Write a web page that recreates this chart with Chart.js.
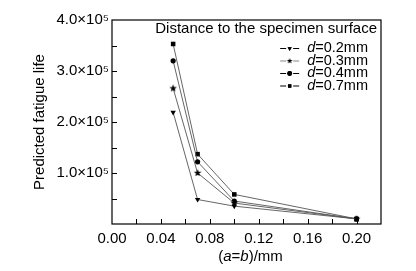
<!DOCTYPE html>
<html>
<head>
<meta charset="utf-8">
<script src="https://cdn.jsdelivr.net/npm/chart.js@4"></script>
<style>
  html, body { margin: 0; padding: 0; background: #fff; }
  #wrap { width: 416px; height: 271px; }
</style>
</head>
<body>
<div id="wrap"><canvas id="fatigueChart" width="416" height="271"></canvas></div>
<script>
// crack size (a=b) in mm
const crackSizes = [0.05, 0.07, 0.10, 0.20];

// predicted fatigue life for each distance to the surface
const lifeD02 = [2.19e5, 0.48e5, 0.35e5, 0.10e5];
const lifeD03 = [2.66e5, 1.00e5, 0.41e5, 0.10e5];
const lifeD04 = [3.20e5, 1.22e5, 0.45e5, 0.10e5];
const lifeD07 = [3.53e5, 1.37e5, 0.58e5, 0.10e5];

const seriesLabels = ['0.2mm', '0.3mm', '0.4mm', '0.7mm'];
const xTickLabels = ['0.00', '0.04', '0.08', '0.12', '0.16', '0.20'];
const yTickLabels = ['1.0\u00d710\u2075', '2.0\u00d710\u2075', '3.0\u00d710\u2075', '4.0\u00d710\u2075'];

const FONT = '"Liberation Sans", Arial, sans-serif';

// filled star marker (Chart.js 'star' is only stroked)
function makeStar(r) {
  const c = document.createElement('canvas');
  c.width = c.height = r * 2 + 2;
  const g = c.getContext('2d');
  g.fillStyle = '#000';
  g.beginPath();
  for (let i = 0; i < 10; i++) {
    const rad = i % 2 === 0 ? r : r * 0.42;
    const a = -Math.PI / 2 + i * Math.PI / 5;
    const px = r + 1 + rad * Math.cos(a);
    const py = r + 1 + rad * Math.sin(a);
    if (i === 0) g.moveTo(px, py); else g.lineTo(px, py);
  }
  g.closePath();
  g.fill();
  return c;
}
const starImg = makeStar(4);
const starSmall = makeStar(3);

function toPoints(ys) {
  return crackSizes.map((x, i) => ({ x: x, y: ys[i] }));
}

const markerStyles = [
  { pointStyle: 'triangle', rotation: 180, radius: 3.1 },
  { pointStyle: starImg, rotation: 0, radius: 4 },
  { pointStyle: 'circle', rotation: 0, radius: 2.6 },
  { pointStyle: 'rect', rotation: 0, radius: 3.2 }
];

const datasets = [lifeD02, lifeD03, lifeD04, lifeD07].map((vals, i) => ({
  label: seriesLabels[i],
  data: toPoints(vals),
  borderColor: '#555',
  borderWidth: 0.9,
  backgroundColor: '#000',
  pointBackgroundColor: '#000',
  pointBorderColor: '#000',
  pointBorderWidth: 0,
  pointStyle: markerStyles[i].pointStyle,
  pointRotation: markerStyles[i].rotation,
  pointRadius: markerStyles[i].radius,
  tension: 0
}));

// frame, inward ticks, axis titles and legend
const decorPlugin = {
  id: 'decor',
  afterDraw(chart) {
    const ctx = chart.ctx;
    const a = chart.chartArea;
    const xs = chart.scales.x, ys = chart.scales.y;
    ctx.save();
    ctx.strokeStyle = '#000';
    ctx.lineWidth = 1.2;
    ctx.strokeRect(a.left, a.top, a.right - a.left, a.bottom - a.top);

    // inward ticks
    ctx.lineWidth = 1;
    ctx.beginPath();
    for (let v = 0.02; v < 0.215; v += 0.02) {
      const px = Math.round(xs.getPixelForValue(v)) + 0.5;
      ctx.moveTo(px, a.bottom);
      ctx.lineTo(px, a.bottom - 5);
    }
    for (let v = 0.5e5; v < 3.99e5; v += 0.5e5) {
      const py = Math.round(ys.getPixelForValue(v)) + 0.5;
      ctx.moveTo(a.left, py);
      ctx.lineTo(a.left + 5, py);
    }
    ctx.stroke();

    ctx.fillStyle = '#000';
    // y title
    ctx.save();
    ctx.translate(44, (a.top + a.bottom) / 2);
    ctx.rotate(-Math.PI / 2);
    ctx.font = '15px ' + FONT;
    ctx.textAlign = 'center';
    ctx.textBaseline = 'alphabetic';
    ctx.fillText('Predicted fatigue life', 0, 0);
    ctx.restore();

    // x title "(a=b)/mm" with italic a and b
    const parts = [['(', false], ['a', true], ['=', false], ['b', true], [')/mm', false]];
    let total = 0;
    parts.forEach(p => {
      ctx.font = (p[1] ? 'italic ' : '') + '15px ' + FONT;
      total += ctx.measureText(p[0]).width;
    });
    let cx = (a.left + a.right) / 2 - total / 2 + 4;
    ctx.textAlign = 'left';
    parts.forEach(p => {
      ctx.font = (p[1] ? 'italic ' : '') + '15px ' + FONT;
      ctx.fillText(p[0], cx, 261);
      cx += ctx.measureText(p[0]).width;
    });

    // legend title
    ctx.font = '15px ' + FONT;
    ctx.textAlign = 'right';
    ctx.fillText('Distance to the specimen surface', a.right - 4, 33);

    // legend entries, right aligned
    const rowY = [48, 60.5, 73, 85.5];
    const rightX = 368;
    chart.data.datasets.forEach((ds, i) => {
      const y = rowY[i];
      ctx.font = 'italic 14.5px ' + FONT;
      const dw = ctx.measureText('d').width;
      ctx.font = '14.5px ' + FONT;
      const rest = '=' + ds.label;
      const rw = ctx.measureText(rest).width;
      const textX = rightX - rw - dw;
      ctx.textAlign = 'left';
      ctx.textBaseline = 'middle';
      ctx.fillText(rest, textX + dw, y);
      ctx.font = 'italic 14.5px ' + FONT;
      ctx.fillText('d', textX, y);

      const sx = textX - 27;
      ctx.strokeStyle = i === 1 ? '#888' : '#000';
      ctx.lineWidth = 1.1;
      ctx.beginPath();
      ctx.moveTo(sx, y + 0.5); ctx.lineTo(sx + 6, y + 0.5);
      ctx.moveTo(sx + 13, y + 0.5); ctx.lineTo(sx + 19, y + 0.5);
      ctx.stroke();
      const ps = ds.pointStyle;
      Chart.helpers.drawPoint(ctx, {
        pointStyle: ps === starImg ? starSmall : ps,
        rotation: ds.pointRotation,
        radius: ps === starImg ? 3 : 2.4,
        borderWidth: 0
      }, sx + 9.5, y + 0.5);
      if (ps !== starImg) ctx.fill();
    });
    ctx.restore();
  }
};

new Chart(document.getElementById('fatigueChart'), {
  type: 'line',
  data: { datasets: datasets },
  plugins: [decorPlugin],
  options: {
    responsive: false,
    animation: false,
    devicePixelRatio: 1,
    layout: { padding: { left: 0, right: 35, top: 20, bottom: 0 } },
    plugins: { legend: { display: false }, tooltip: { enabled: false } },
    scales: {
      x: {
        type: 'linear',
        min: 0,
        max: 0.22,
        afterFit(scale) { scale.height = 47; },
        afterBuildTicks(scale) {
          scale.ticks = xTickLabels.map(t => ({ value: parseFloat(t) }));
        },
        grid: { display: false, drawTicks: false },
        border: { display: false },
        ticks: {
          padding: 6,
          color: '#000',
          font: { family: FONT, size: 15 },
          maxRotation: 0,
          autoSkip: false,
          callback: (v, i) => xTickLabels[i]
        }
      },
      y: {
        type: 'linear',
        min: 0,
        max: 4e5,
        afterFit(scale) { scale.width = 112; },
        afterBuildTicks(scale) {
          scale.ticks = yTickLabels.map((t, i) => ({ value: (i + 1) * 1e5 }));
        },
        grid: { display: false, drawTicks: false },
        border: { display: false },
        ticks: {
          padding: 3,
          color: '#000',
          font: { family: FONT, size: 15 },
          autoSkip: false,
          callback: (v, i) => yTickLabels[i]
        }
      }
    }
  }
});
</script>
</body>
</html>
